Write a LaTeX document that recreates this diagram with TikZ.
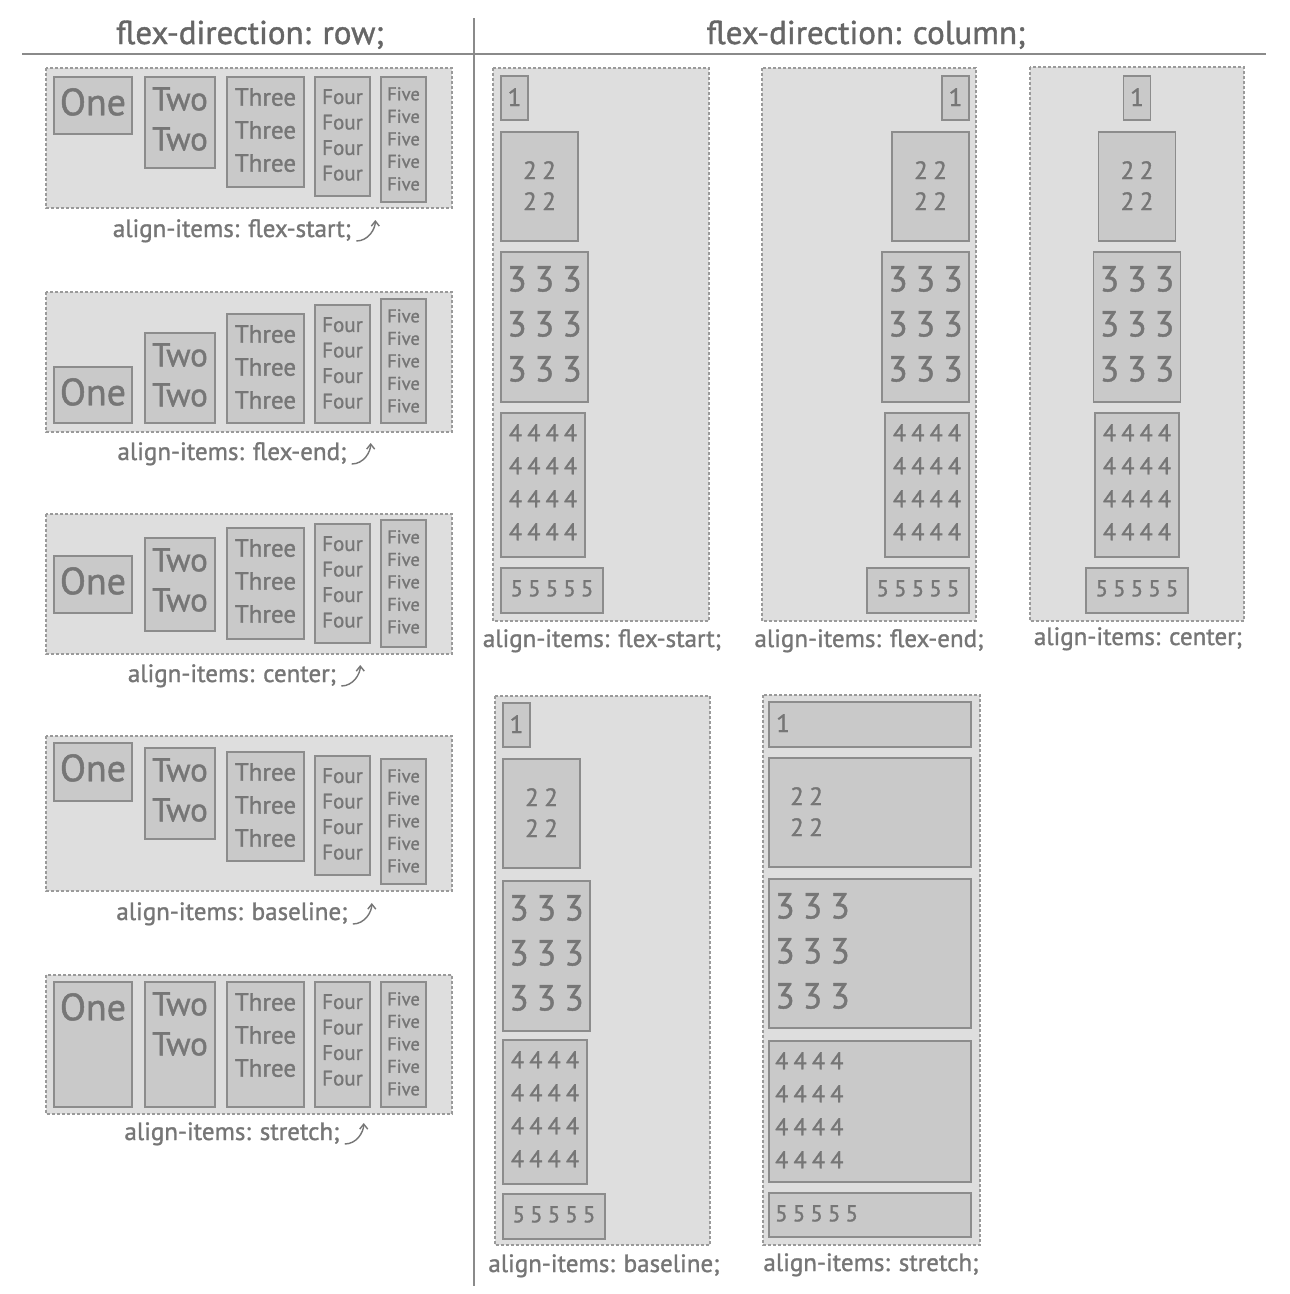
\documentclass[tikz,border=0pt]{standalone}
\usepackage{fontspec}
\setmainfont{PT Sans}[FakeBold=1.2]
\newfontfamily\digitfont{PT Sans}[LetterSpace=22, FakeBold=1.2]
\usetikzlibrary{arrows.meta}
\definecolor{ink}{HTML}{767676}
\definecolor{headink}{HTML}{666666}
\definecolor{panelfill}{HTML}{DEDEDE}
\definecolor{paneledge}{HTML}{9A9A9A}
\definecolor{itemfill}{HTML}{C9C9C9}
\definecolor{itemedge}{HTML}{8C8C8C}
\definecolor{rulegray}{HTML}{8A8A8A}

\begin{document}
\begin{tikzpicture}[x=1pt, y=-1pt,
    panel/.style   = {draw=paneledge, fill=panelfill, line width=1.1pt,
                      dash pattern=on 3pt off 2pt},
    item/.style    = {draw=itemedge, fill=itemfill, line width=1.4pt},
    rowtxt/.style  = {anchor=north, inner sep=0pt, align=center, text=ink},
    coltxt/.style  = {anchor=north, inner sep=0pt, align=left, text=ink},
    caption/.style = {anchor=base, inner sep=0pt, text=ink,
                      font=\fontsize{25}{29}\selectfont},
    heading/.style = {anchor=base, inner sep=0pt, text=headink,
                      font=\fontsize{33}{38}\selectfont},
    hook/.style    = {draw=ink, line width=1.4pt,
                      -{Straight Barb[length=5pt, width=8pt]}}
  ]
  \useasboundingbox[fill=white] (0,0) rectangle (1290,1294);

  % headings
  \node[heading] (hrow) at (250,44) {flex-direction: row;};
  \node[heading] (hcol) at (866,44) {flex-direction: column;};
  \draw[draw=rulegray, line width=1.6pt] (22,54) -- (1266,54);
  \draw[draw=rulegray, line width=1.2pt] (474,18) -- (474,1286);

  % flex-direction: row
  \foreach \pn/\qa/\qb/\ta/\tb/\tc/\td/\te/\ba/\bb/\bc/\bd/\be in {
      1/68/208/77/77/77/77/77/134/168/187/196/202,
      2/292/432/367/333/314/305/299/423/423/423/423/423,
      3/514/654/556/538/528/524/520/613/631/639/643/647,
      4/736/891/743/748/752/756/759/801/839/861/875/884,
      5/975/1114/982/982/982/982/982/1107/1107/1107/1107/1107}
  {
    \draw[panel] (46,\qa) rectangle (452,\qb);
    \foreach \xa/\xb/\ya/\yb/\txt/\fs/\ls/\dy [count=\k] in {
        54/132/\ta/\ba/One/38/40/11,
        145/215/\tb/\bb/{Two\\Two}/33/40/10,
        227/304/\tc/\bc/{Three\\Three\\Three}/25/33/11,
        315/370/\td/\bd/{Four\\Four\\Four\\Four}/21/25.5/12,
        381/426/\te/\be/{Five\\Five\\Five\\Five\\Five}/18.5/22.5/10}
    {
      \draw[item] (\xa,\ya) rectangle (\xb,\yb);
      \node[rowtxt, font=\fontsize{\fs}{\ls}\selectfont]
        (r\pn-\k) at ({(\xa+\xb)/2},\ya+\dy) {\txt};
    }
  }

  \foreach \pn/\cy/\ct in {1/237/flex-start, 2/460/flex-end, 3/682/center,
                           4/920/baseline, 5/1140/stretch}
  {
    \node[caption] (rl\pn) at (232,\cy) {align-items: \ct;};
    \draw[hook] ([shift={(5,4)}]rl\pn.base east)
      .. controls +(12,0) and +(0,9) .. ++(19,-21);
  }

  % flex-direction: column
  \foreach \pn/\ax/\af/\qa/\qb/\qc/\qd/\ta/\tb/\tc/\td/\te in {
      A/501/0/493/68/709/621/76/132/252/413/568,
      B/969/1/762/68/976/621/76/132/252/413/568,
      C/1137/0.5/1030/67/1244/621/76/132/252/413/568,
      D/503/0/495/696/710/1245/703/759/881/1040/1194}
  {
    \draw[panel] (\qa,\qb) rectangle (\qc,\qd);
    \foreach \ty/\w/\h/\txt/\fs/\ls/\dy [count=\k] in {
        \ta/27/44/1/25/30/12,
        \tb/77/109/{22\\22}/25/31/29,
        \tc/87/150/{333\\333\\333}/36/45/14,
        \td/84/144/{4444\\4444\\4444\\4444}/24/33/11,
        \te/102/45/55555/23/25/12}
    {
      \pgfmathsetmacro\xl{\ax-\af*\w}
      \draw[item] (\xl,\ty) rectangle ++(\w,\h);
      \node[coltxt, font=\digitfont\fontsize{\fs}{\ls}\selectfont]
        (c\pn-\k) at (\xl+\w/2,\ty+\dy) {\txt};
    }
  }

  \draw[panel] (763,695) rectangle (980,1245);
  \foreach \ty/\h/\txt/\fs/\ls/\dy/\px [count=\k] in {
      702/45/1/25/30/12/7,
      758/109/{22\\22}/25/31/29/21,
      879/149/{333\\333\\333}/36/45/14/6,
      1041/141/{4444\\4444\\4444\\4444}/24/33/11/6,
      1193/44/55555/23/25/12/6}
  {
    \draw[item] (769,\ty) rectangle (971,\ty+\h);
    \node[coltxt, anchor=north west, font=\digitfont\fontsize{\fs}{\ls}\selectfont]
      (cE-\k) at (769+\px,\ty+\dy) {\txt};
  }

  \foreach \pn/\cx/\cy/\ct in {A/602/647/flex-start, B/869/647/flex-end,
                               C/1138/645/center, D/604/1272/baseline,
                               E/871/1271/stretch}
    \node[caption] (cl\pn) at (\cx,\cy) {align-items: \ct;};
\end{tikzpicture}
\end{document}
